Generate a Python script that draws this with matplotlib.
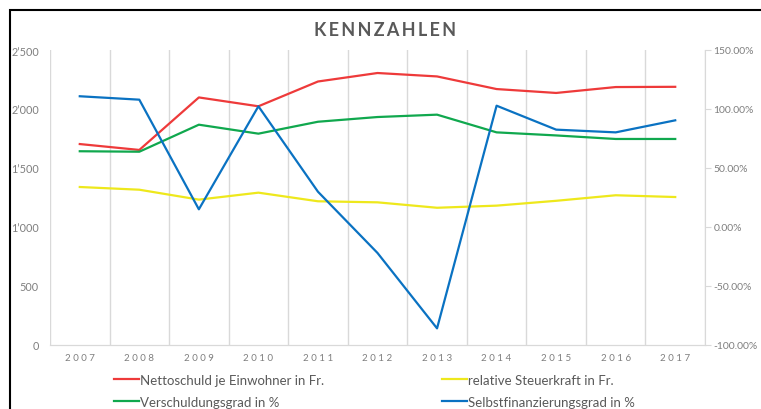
import matplotlib.pyplot as plt
from matplotlib.patches import Rectangle
from matplotlib.lines import Line2D
from matplotlib.ticker import FuncFormatter, FixedLocator

plt.rcParams['font.family'] = ['Lato', 'DejaVu Sans']

years = ['2007', '2008', '2009', '2010', '2011', '2012', '2013', '2014', '2015', '2016', '2017']
nettoschuld = [1703, 1653, 2098, 2023, 2233, 2305, 2276, 2169, 2136, 2186, 2188]
steuerkraft = [1339, 1316, 1232, 1291, 1218, 1209, 1163, 1181, 1222, 1269, 1254]
verschuldung = [64.2, 63.8, 86.7, 79.1, 89.2, 93.2, 95.2, 80.2, 77.6, 74.6, 74.6]
selbstfin = [110.8, 107.9, 15.0, 102.3, 29.9, -22.0, -85.9, 102.8, 82.5, 80.2, 90.4]

grey = '#7f7f7f'
fig = plt.figure(figsize=(7.61, 4.10), dpi=100)

# chart border (clipped on right and bottom like the screenshot)
fig.patches.append(Rectangle((10 / 761, -0.1), 2, 1 - 11 / 410 + 0.1,
                             transform=fig.transFigure, fill=False,
                             edgecolor='black', linewidth=1.5))

ax = fig.add_axes([50 / 761, 1 - 346 / 410, 655 / 761, 295 / 410])
ax2 = ax.twinx()

x = list(range(len(years)))
ax.plot(x, nettoschuld, color='#ee3a3a', lw=1.6, zorder=3)
ax.plot(x, steuerkraft, color='#eee81c', lw=1.6, zorder=3)
ax2.plot(x, verschuldung, color='#10a84e', lw=1.6, zorder=3)
ax2.plot(x, selbstfin, color='#0a72c2', lw=1.6, zorder=3)

ax.set_xlim(-0.5, len(years) - 0.5)
ax.set_ylim(0, 2500)
ax2.set_ylim(-100, 150)
ax.set_yticks(range(0, 2501, 500))
ax2.set_yticks(range(-100, 151, 50))
ax.yaxis.set_major_formatter(FuncFormatter(lambda v, p: f"{int(v):,}".replace(',', "\u2019")))
ax2.yaxis.set_major_formatter(FuncFormatter(lambda v, p: f"{v:.2f}%"))

ax.set_xticks(x)
ax.set_xticklabels([' '.join(y) for y in years])
ax.xaxis.set_minor_locator(FixedLocator([i - 0.5 for i in range(len(years) + 1)]))
ax.grid(which='minor', axis='x', color='#d9d9d9', lw=1)
ax.tick_params(axis='x', which='both', length=0, colors=grey, labelsize=7, pad=6)
ax.tick_params(axis='y', length=0, colors=grey, labelsize=7.8, pad=8)
ax2.tick_params(axis='y', length=4, color='#d9d9d9', colors=grey, labelsize=7.5, pad=2)
ax2.tick_params(axis='y', labelcolor=grey)

for a in (ax, ax2):
    for s in ('top', 'left', 'right'):
        a.spines[s].set_visible(False)
    a.spines['bottom'].set_color('#d9d9d9')
ax2.spines['right'].set_visible(True)
ax2.spines['right'].set_color('#d9d9d9')

fig.text(0.506, 1 - 30 / 410, '\u2009'.join('KENNZAHLEN'), ha='center', va='center',
         fontsize=13, fontweight='bold', color='#595959')

h1 = [Line2D([], [], color='#ee3a3a', lw=1.6), Line2D([], [], color='#10a84e', lw=1.6)]
h2 = [Line2D([], [], color='#eee81c', lw=1.6), Line2D([], [], color='#0a72c2', lw=1.6)]
kw = dict(frameon=False, fontsize=9.5, handlelength=1.9, handletextpad=0.1,
          labelspacing=0.75, labelcolor='#595959', borderaxespad=0, borderpad=0)
fig.legend(h1, ['Nettoschuld je Einwohner in Fr.', 'Verschuldungsgrad in %'],
           loc='upper left', bbox_to_anchor=(114 / 761, 1 - 375 / 410), **kw)
fig.legend(h2, ['relative Steuerkraft in Fr.', 'Selbstfinanzierungsgrad in %'],
           loc='upper left', bbox_to_anchor=(442 / 761, 1 - 375 / 410), **kw)

fig.savefig('out.png', dpi=100)
